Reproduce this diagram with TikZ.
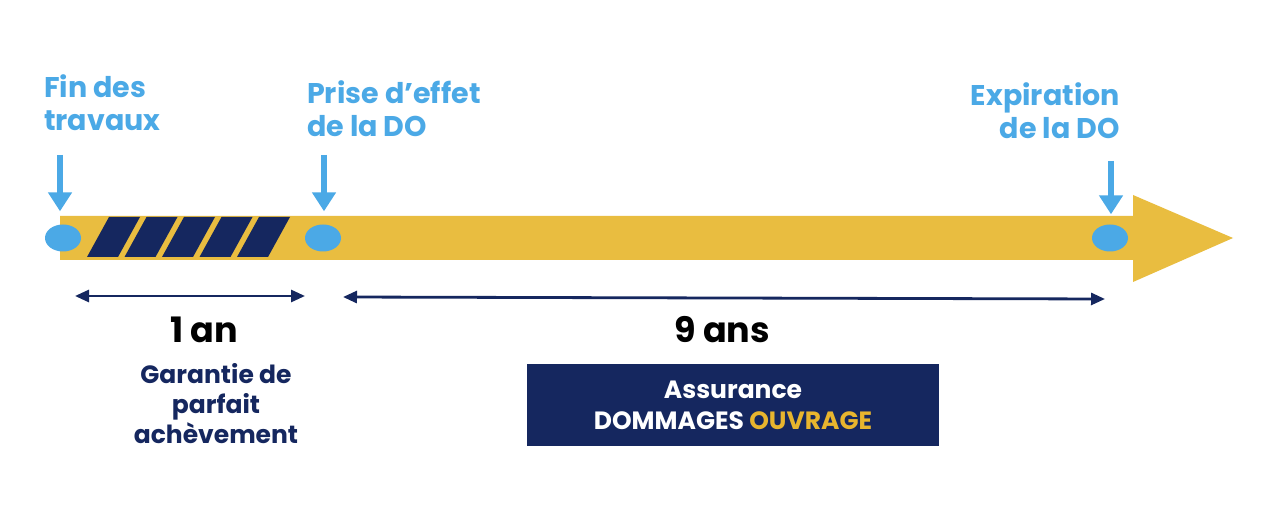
\documentclass[tikz,border=0pt]{standalone}
\usepackage{fontspec}
\setmainfont{Poppins}
\usetikzlibrary{arrows.meta,shapes.geometric,calc}
\definecolor{barY}{HTML}{E9BD40}
\definecolor{lblue}{HTML}{4BA9E6}
\definecolor{navy}{HTML}{15275F}
\definecolor{ouvY}{HTML}{E8B52E}
\tikzset{
  toplbl/.style={text=lblue,font=\fontsize{28.5}{33}\selectfont\bfseries,inner sep=0pt},
  dot/.style={ellipse,fill=lblue,minimum width=36pt,minimum height=27pt,inner sep=0pt},
  downarr/.style={draw=lblue,line width=6pt,-{Triangle[width=23pt,length=19pt]},shorten >=13pt},
  span/.style={draw=navy,line width=2.8pt,{Triangle[width=12pt,length=14pt]}-{Triangle[width=12pt,length=14pt]}},
  stripe/.style={fill=navy},
  durlbl/.style={text=black,font=\fontsize{35}{40}\selectfont\bfseries,inner sep=0pt},
  garlbl/.style={text=navy,font=\fontsize{25}{30}\selectfont\bfseries,align=center,inner sep=0pt},
  dobox/.style={fill=navy,text=white,font=\fontsize{25}{31}\selectfont\bfseries,align=center,minimum width=412pt,minimum height=82pt,inner sep=0pt}
}
\begin{document}
\begin{tikzpicture}[x=1pt,y=-1pt]
\useasboundingbox[fill=white] (0,0) rectangle (1280,518);
% main yellow arrow
\fill[barY] (60,216) -- (1133,216) -- (1133,195) -- (1233,238) -- (1133,282) -- (1133,260) -- (60,260) -- cycle;
% stripes
\foreach \i in {0,...,4}{
  \fill[stripe] ({109+37.5*\i},217) -- ({140+37.5*\i},217) -- ({118+37.5*\i},257) -- ({87+37.5*\i},257) -- cycle;
}
% dots
\node[dot] (d1) at (63,238) {};
\node[dot] (d2) at (323,238) {};
\node[dot] (d3) at (1110,238) {};
% top labels
\node[toplbl,align=left,anchor=north west] (l1) at (44,74) {Fin des\\travaux};
\node[toplbl,align=left,anchor=north west] (l2) at (307,80) {Prise d’effet\\de la DO};
\node[toplbl,align=right,anchor=north east] (l3) at (1120,82) {Expiration\\de la DO};
% down arrows
\coordinate (a1) at (60,155);
\coordinate (a2) at (324,155);
\coordinate (a3) at (1111,161);
\draw[downarr] (a1) -- (a1 |- d1.north);
\draw[downarr] (a2) -- (a2 |- d2.north);
\draw[downarr,shorten >=10pt] (a3) -- (a3 |- d3.north);
% spans
\coordinate (s1a) at (75,296);
\coordinate (s1b) at (305,296);
\coordinate (s2a) at (343,297);
\coordinate (s2b) at (1105,299);
\draw[span] (s1a) -- (s1b);
\draw[span] (s2a) -- (s2b);
% duration labels
\node[durlbl] (one) at (204,330) {1 an};
\node[durlbl] (nine) at (722,330) {9 ans};
\node[garlbl] (gar) at (216,404) {Garantie de\\parfait\\achèvement};
\node[dobox] (box) at (733,405) {Assurance\\DOMMAGES \textcolor{ouvY}{OUVRAGE}};
\end{tikzpicture}
\end{document}
